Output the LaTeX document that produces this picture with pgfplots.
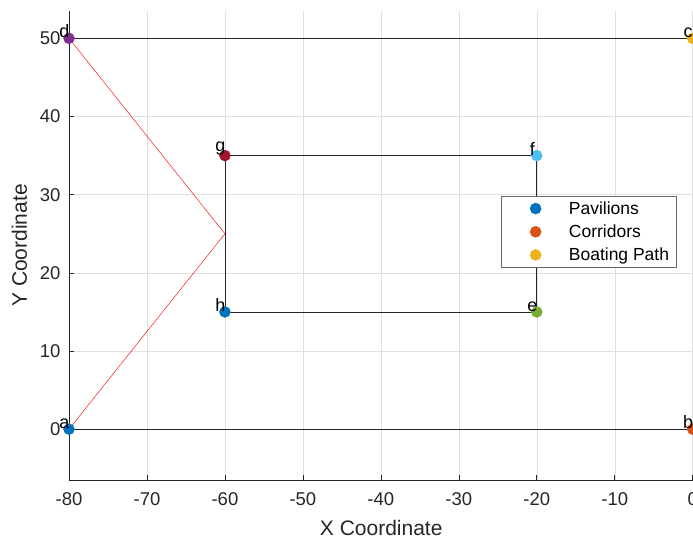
\documentclass[border=0pt]{standalone}
\usepackage{fontspec}
\setmainfont{Liberation Sans}
\usepackage{pgfplots}
\pgfplotsset{compat=1.18}
\definecolor{mblue}{rgb}{0,0.447,0.741}
\definecolor{morange}{rgb}{0.850,0.325,0.098}
\definecolor{myellow}{rgb}{0.929,0.694,0.125}
\definecolor{mpurple}{rgb}{0.494,0.184,0.556}
\definecolor{mgreen}{rgb}{0.466,0.674,0.188}
\definecolor{mlblue}{rgb}{0.301,0.745,0.933}
\definecolor{mred}{rgb}{0.635,0.078,0.184}
\definecolor{axgray}{rgb}{0.15,0.15,0.15}
\begin{document}
\begin{tikzpicture}
\begin{axis}[
  scale only axis,
  width=624.5pt, height=469pt,
  xmin=-80, xmax=0.1, ymin=-6.5, ymax=53.5,
  xtick={-80,-70,...,0}, ytick={0,10,...,50},
  axis lines*=left,
  axis line style={axgray, line width=0.6pt},
  tick align=inside, major tick length=5pt,
  tick style={axgray, line width=0.6pt},
  grid=major, grid style={gray!25, line width=0.5pt},
  ticklabel style={font=\fontsize{18.5}{20}\selectfont, text=axgray},
  xticklabel style={yshift=-9pt},
  yticklabel style={xshift=-5pt},
  /pgf/number format/assume math mode=true,
  xlabel={X Coordinate}, ylabel={Y Coordinate},
  label style={font=\fontsize{21}{23}\selectfont, text=axgray},
  xlabel style={yshift=-8pt},
  ylabel style={yshift=6pt},
  clip mode=individual,
  legend style={at={(axis cs:-2.1,29.8)}, anchor=north east,
    font=\fontsize{17.5}{19}\selectfont, draw=axgray!70, line width=0.5pt,
    inner xsep=5pt, inner ysep=3pt, row sep=5pt},
  legend cell align=left,
  legend image code/.code={\path (0,0) (60pt,0); \draw[#1] plot coordinates {(29pt,0cm)};},
]
\addplot[black!85, line width=0.7pt, forget plot] coordinates {(-80,0) (0,0)};
\addplot[black!85, line width=0.7pt, forget plot] coordinates {(-80,50) (0,50)};
\addplot[black!85, line width=0.7pt, forget plot] coordinates {(-60,15) (-20,15) (-20,35) (-60,35) (-60,15)};
\addplot[red!90!white, line width=0.5pt, forget plot] coordinates {(-80,0) (-60,25) (-80,50)};
\addplot[only marks, mark=*, mark size=5.5pt, color=mblue] coordinates {(-80,0)};
\addlegendentry{Pavilions}
\addplot[only marks, mark=*, mark size=5.5pt, color=morange] coordinates {(0,0)};
\addlegendentry{Corridors}
\addplot[only marks, mark=*, mark size=5.5pt, color=myellow] coordinates {(0,50)};
\addlegendentry{Boating Path}
\addplot[only marks, mark=*, mark size=5.5pt, color=mpurple, forget plot] coordinates {(-80,50)};
\addplot[only marks, mark=*, mark size=5.5pt, color=mgreen, forget plot] coordinates {(-20,15)};
\addplot[only marks, mark=*, mark size=5.5pt, color=mlblue, forget plot] coordinates {(-20,35)};
\addplot[only marks, mark=*, mark size=5.5pt, color=mred, forget plot] coordinates {(-60,35)};
\addplot[only marks, mark=*, mark size=5.5pt, color=mblue, forget plot] coordinates {(-60,15)};
\begin{scope}[every node/.style={anchor=south, inner sep=0pt, xshift=-4.5pt, font=\fontsize{18}{20}\selectfont}]
\node at (axis cs:-80,0) {a};
\node at (axis cs:0,0) {b};
\node at (axis cs:0,50) {c};
\node at (axis cs:-80,50) {d};
\node at (axis cs:-20,15) {e};
\node at (axis cs:-20,35) {f};
\node at (axis cs:-60,35) {g};
\node at (axis cs:-60,15) {h};
\end{scope}
\end{axis}
\pgfresetboundingbox
\path (current axis.south west) ++(-69pt,-61pt) rectangle ++(693pt,541pt);
\end{tikzpicture}
\end{document}
